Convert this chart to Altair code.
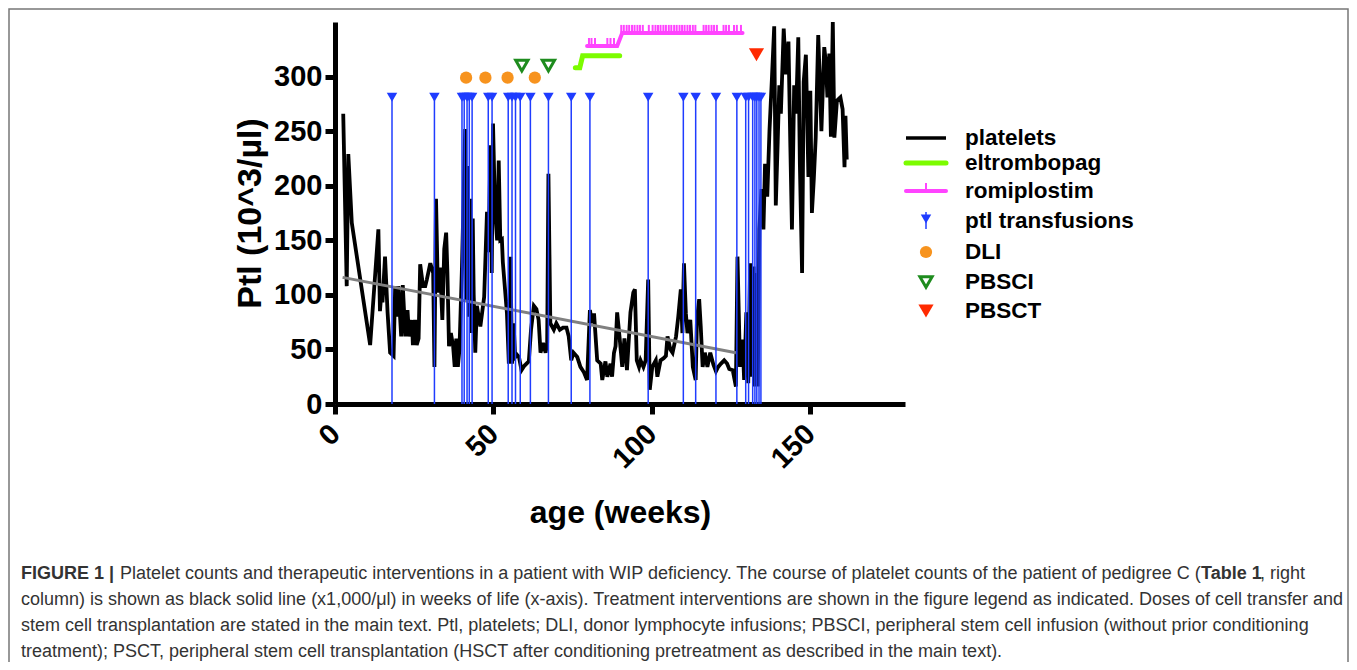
import altair as alt
import pandas as pd

FONT = "Liberation Sans"

# ---------------- data ----------------
plt_weeks = [
    2.6, 3.7, 4.2, 5.3, 11.1, 13.7, 14.2, 14.8, 15.0, 15.8, 16.6, 17.4, 18.5, 19.0, 19.6,
    20.0, 20.9, 21.4, 22.2, 22.9, 23.4, 24.3, 24.6, 25.3, 25.8, 26.4, 26.9, 27.8, 28.5, 29.0,
    30.1, 31.0, 31.4, 31.9, 32.5, 33.2, 33.9, 34.5, 35.1, 35.5, 36.0, 36.6, 37.3, 37.8, 38.3,
    38.8, 39.3, 40.1, 40.6, 41.1, 41.4, 41.9, 42.3, 42.7, 43.1, 43.5, 43.8, 44.3, 44.8, 45.9,
    47.1, 48.0, 48.5, 49.1, 49.5, 49.9, 50.5, 51.2, 51.7, 52.2, 52.7, 53.0, 54.3, 54.9, 55.4,
    55.9, 56.4, 56.9, 57.5, 58.1, 58.9, 59.8, 61.2, 61.9, 62.8, 63.6, 64.3, 64.9, 65.7, 66.5,
    67.0, 67.4, 68.0, 69.1, 69.9, 71.0, 72.0, 73.1, 73.8, 74.6, 75.3, 76.5, 77.5, 78.6, 79.6,
    80.5, 81.2, 81.8, 82.8, 83.9, 84.4, 85.4, 86.0, 87.0, 87.5, 88.1, 88.6, 89.1, 89.9, 90.7,
    91.4, 92.2, 93.3, 94.2, 94.7, 95.3, 96.0, 96.5, 97.4, 98.1, 98.9, 99.4, 100.2, 101.3, 101.8,
    102.8, 103.8, 104.5, 105.0, 105.9, 106.6, 107.7, 108.4, 109.2, 109.7, 110.2, 110.8, 111.3, 112.2, 113.0,
    113.9, 114.3, 115.0, 115.5, 116.1, 116.8, 117.6, 118.5, 119.5, 120.3, 121.0, 121.9, 122.9, 123.8, 124.5,
    125.6, 126.6, 127.1, 127.9, 128.7, 129.2, 129.9, 130.5, 131.1, 131.6, 132.2, 132.6, 133.2, 133.5, 134.0,
    134.7, 135.3, 135.8, 136.5, 137.2, 138.0, 138.7, 139.2, 139.8, 140.3, 140.8, 141.7, 142.4, 143.2, 143.8,
    144.3, 145.0, 145.6, 146.3, 146.8, 147.5, 148.0, 148.7, 149.5, 150.1, 150.6, 151.2, 151.8, 152.6, 153.1,
    153.6, 154.5, 155.0, 155.5, 156.1, 156.6, 157.2, 157.7, 158.5, 159.6, 160.3, 160.9, 161.2, 161.6,
]
plt_values = [
    266, 108, 229, 166, 54, 160, 85, 108, 93, 135, 84, 47, 44, 108, 80,
    108, 62, 109, 62, 86, 62, 77, 54, 77, 54, 60, 128, 108, 108, 114,
    129, 120, 34, 188, 102, 125, 77, 142, 157, 120, 53, 65, 53, 34, 60,
    34, 50, 126, 188, 252, 95, 218, 80, 188, 65, 170, 100, 47, 90, 71,
    98, 176, 139, 237, 120, 257, 180, 150, 223, 150, 151, 130, 83, 37, 135,
    37, 74, 43, 45, 43, 31, 35, 39, 68, 90, 87, 77, 47, 56, 47,
    56, 211, 74, 68, 74, 68, 70, 70, 62, 40, 47, 43, 34, 29, 22,
    86, 74, 83, 40, 37, 22, 39, 25, 37, 25, 47, 53, 84, 60, 34,
    60, 31, 84, 102, 105, 40, 34, 40, 34, 40, 114, 13, 34, 40, 25,
    40, 42, 44, 62, 50, 47, 62, 80, 105, 65, 129, 83, 65, 77, 34,
    22, 77, 96, 71, 34, 47, 34, 47, 36, 30, 34, 37, 40, 37, 32,
    31, 16, 135, 34, 59, 22, 84, 19, 129, 25, 126, 16, 120, 16, 160,
    197, 160, 220, 190, 250, 300, 346, 182, 240, 292, 266, 344, 302, 332, 235,
    160, 292, 266, 336, 220, 120, 295, 320, 208, 287, 175, 206, 244, 338, 296,
    250, 327, 313, 281, 321, 245, 350, 244, 278, 281, 270, 217, 264, 224,
]

trend_weeks = [2.4, 126.6]
trend_values = [116, 47]

transfusion_weeks = [
    18.0, 31.4, 40.1, 40.8, 41.7, 42.4, 43.3, 48.4, 49.6, 54.7, 55.9, 57.0, 58.5,
    61.7, 67.4, 74.6, 80.5, 98.9, 110.0, 113.9, 120.3, 126.9, 129.7, 130.6, 131.9,
    132.6, 133.2, 133.9, 134.5,
]
transfusion_marker_value = 281

dli_weeks = [41.4, 47.5, 54.5, 63.1]
dli_values = [299, 299, 299, 299]

pbsci_weeks = [59.0, 67.4]
pbsci_values = [310, 310]

pbsct_weeks = [133.1]
pbsct_values = [320]

eltrombopag_weeks = [75.9, 77.3, 78.2, 89.9]
eltrombopag_values = [308, 308, 319, 319]

romiplostim_weeks = [79.6, 89.1, 90.7, 128.7]
romiplostim_values = [328, 328, 340, 340]

romiplostim_dose_weeks = [
    80.2, 81.0, 82.1, 86.0, 87.0, 88.1,
    90.4, 91.2, 92.1, 92.9, 93.8, 94.6, 95.5, 96.3, 97.2, 99.1, 100.3, 101.2, 102.0,
    102.8, 103.7, 104.5, 105.4, 106.2, 107.1, 107.9, 108.8, 109.6, 110.4, 111.3,
    112.1, 113.0, 113.8, 116.4, 117.2, 118.0, 118.9, 119.7, 120.6, 122.7, 123.5,
    124.4, 126.0, 126.9, 128.2,
]
romiplostim_dose_values = [328] * 6 + [340] * 39

legend_labels = ["platelets", "eltrombopag", "romiplostim", "ptl transfusions",
                 "DLI", "PBSCI", "PBSCT"]

caption_lines = [
    "column) is shown as black solid line (x1,000/\u03bcl) in weeks of life (x-axis). Treatment interventions are shown in the figure legend as indicated. Doses of cell transfer and",
    "stem cell transplantation are stated in the main text. Ptl, platelets; DLI, donor lymphocyte infusions; PBSCI, peripheral stem cell infusion (without prior conditioning",
    "treatment); PSCT, peripheral stem cell transplantation (HSCT after conditioning pretreatment as described in the main text).",
]

# ---------------- colours / layout ----------------
C_BLUE = "#1f3cff"
C_ORANGE = "#f7931e"
C_DKGREEN = "#1e8c1e"
C_RED = "#ff2a00"
C_LIME = "#7cfc00"
C_MAGENTA = "#ff44ff"

W, H = 570, 382
X_DOMAIN = [0, 180]
Y_DOMAIN = [0, 350]
LEGEND_ROW_Y = [116, 141, 169, 199, 230, 260, 289]
SYM_X = 591
LINE_X0, LINE_X1 = 571, 611
TEXT_X = 630
CAP_FS = 18
CAP_Y = [557, 583, 609, 635]

plt_df = pd.DataFrame({"week": plt_weeks, "ptl": plt_values})
trend_df = pd.DataFrame({"week": trend_weeks, "ptl": trend_values})
tr_df = pd.DataFrame({"week": transfusion_weeks,
                      "ptl": [transfusion_marker_value] * len(transfusion_weeks),
                      "base": [0] * len(transfusion_weeks)})
dli_df = pd.DataFrame({"week": dli_weeks, "ptl": dli_values})
pbsci_df = pd.DataFrame({"week": pbsci_weeks, "ptl": pbsci_values})
pbsct_df = pd.DataFrame({"week": pbsct_weeks, "ptl": pbsct_values})
elt_df = pd.DataFrame({"week": eltrombopag_weeks, "ptl": eltrombopag_values})
romi_df = pd.DataFrame({"week": romiplostim_weeks, "ptl": romiplostim_values})
romi_dose_df = pd.DataFrame({"week": romiplostim_dose_weeks, "ptl": romiplostim_dose_values})

xs = alt.Scale(domain=X_DOMAIN, nice=False, zero=False)
ys = alt.Scale(domain=Y_DOMAIN, nice=False)

x_axis = alt.Axis(values=[0, 50, 100, 150], labelAngle=-45, labelAlign="right",
                  labelBaseline="middle", labelFont=FONT, labelFontSize=29,
                  labelFontWeight="bold", labelColor="black", labelPadding=15,
                  tickColor="black", tickSize=10, tickWidth=5,
                  domainColor="black", domainWidth=5, grid=False,
                  title="age (weeks)", titleFont=FONT, titleFontSize=32,
                  titleFontWeight="bold", titleColor="black", titlePadding=24)
y_axis = alt.Axis(values=[0, 50, 100, 150, 200, 250, 300], labelFont=FONT,
                  labelFontSize=29, labelFontWeight="bold", labelColor="black",
                  labelPadding=3, tickColor="black", tickSize=10, tickWidth=5,
                  domainColor="black", domainWidth=5, grid=False,
                  title="Ptl (10^3/\u00b5l)", titleFont=FONT, titleFontSize=34,
                  titleFontWeight="bold", titleColor="black", titlePadding=6)

X = alt.X("week:Q", scale=xs, axis=x_axis)
Y = alt.Y("ptl:Q", scale=ys, axis=y_axis)

platelets = alt.Chart(plt_df).mark_line(color="black", strokeWidth=3.8).encode(x=X, y=Y)
trend = alt.Chart(trend_df).mark_line(color="#808080", strokeWidth=3).encode(x="week:Q", y="ptl:Q")
tr_rules = alt.Chart(tr_df).mark_rule(color=C_BLUE, strokeWidth=1.5).encode(
    x="week:Q", y="base:Q", y2="ptl:Q")
tr_marks = alt.Chart(tr_df).mark_point(shape="triangle-down", filled=True, color=C_BLUE,
                                       size=110, opacity=1).encode(x="week:Q", y="ptl:Q")
dli = alt.Chart(dli_df).mark_point(shape="circle", filled=True, color=C_ORANGE,
                                   size=150, opacity=1).encode(x="week:Q", y="ptl:Q")
pbsci = alt.Chart(pbsci_df).mark_point(shape="triangle-down", filled=False, color=C_DKGREEN,
                                       size=150, strokeWidth=3, opacity=1).encode(x="week:Q", y="ptl:Q")
pbsct = alt.Chart(pbsct_df).mark_point(shape="triangle-down", filled=True, color=C_RED,
                                       size=230, opacity=1).encode(x="week:Q", y="ptl:Q")
elt = alt.Chart(elt_df).mark_line(color=C_LIME, strokeWidth=5, strokeCap="round").encode(
    x="week:Q", y="ptl:Q")
romi = alt.Chart(romi_df).mark_line(color=C_MAGENTA, strokeWidth=4, strokeCap="round").encode(
    x="week:Q", y="ptl:Q")
romi_doses = alt.Chart(romi_dose_df).mark_tick(orient="vertical", color=C_MAGENTA, size=8,
                                                thickness=2, yOffset=-4, opacity=1).encode(
    x="week:Q", y="ptl:Q")

layers = [platelets, trend, tr_rules, tr_marks, dli, pbsci, pbsct, elt, romi_doses, romi]

# ---------------- legend ----------------
one = pd.DataFrame({"k": [0]})


def ly(label):
    return alt.value(LEGEND_ROW_Y[legend_labels.index(label)])


layers += [
    alt.Chart(one).mark_rule(color="black", strokeWidth=3.5).encode(
        x=alt.value(LINE_X0), x2=alt.value(LINE_X1), y=ly("platelets")),
    alt.Chart(one).mark_rule(color=C_LIME, strokeWidth=5, strokeCap="round").encode(
        x=alt.value(LINE_X0), x2=alt.value(LINE_X1), y=ly("eltrombopag")),
    alt.Chart(one).mark_rule(color=C_MAGENTA, strokeWidth=4, strokeCap="round").encode(
        x=alt.value(LINE_X0), x2=alt.value(LINE_X1), y=ly("romiplostim")),
    alt.Chart(one).mark_rule(color=C_MAGENTA, strokeWidth=2).encode(
        x=alt.value(SYM_X), y=alt.value(LEGEND_ROW_Y[2] - 8), y2=alt.value(LEGEND_ROW_Y[2])),
    alt.Chart(one).mark_rule(color=C_BLUE, strokeWidth=1.5).encode(
        x=alt.value(SYM_X), y=alt.value(LEGEND_ROW_Y[3] - 9), y2=alt.value(LEGEND_ROW_Y[3] + 8)),
    alt.Chart(one).mark_point(shape="triangle-down", filled=True, color=C_BLUE, size=110,
                              opacity=1).encode(x=alt.value(SYM_X), y=alt.value(LEGEND_ROW_Y[3] - 2)),
    alt.Chart(one).mark_point(shape="circle", filled=True, color=C_ORANGE, size=150,
                              opacity=1).encode(x=alt.value(SYM_X), y=ly("DLI")),
    alt.Chart(one).mark_point(shape="triangle-down", filled=False, color=C_DKGREEN, size=150,
                              strokeWidth=3, opacity=1).encode(x=alt.value(SYM_X), y=ly("PBSCI")),
    alt.Chart(one).mark_point(shape="triangle-down", filled=True, color=C_RED, size=230,
                              opacity=1).encode(x=alt.value(SYM_X), y=ly("PBSCT")),
]
for lab in legend_labels:
    layers.append(alt.Chart(one).mark_text(
        align="left", baseline="middle", font=FONT, fontSize=22.5, fontWeight="bold",
        color="black", text=lab).encode(x=alt.value(TEXT_X), y=ly(lab)))

# ---------------- caption & frame ----------------
first_line_parts = [
    ("FIGURE 1 |", -314, "bold"),
    ("Platelet counts and therapeutic interventions in a patient with WIP deficiency. "
     "The course of platelet counts of the patient of pedigree C (", -215, "normal"),
    ("Table 1", 866, "bold"),
    (", right", 925, "normal"),
]
for txt, xpos, wt in first_line_parts:
    layers.append(alt.Chart(one).mark_text(
        align="left", baseline="alphabetic", font=FONT, fontSize=CAP_FS, fontWeight=wt,
        color="#333333", text=txt).encode(x=alt.value(xpos), y=alt.value(CAP_Y[0])))
for i, line in enumerate(caption_lines):
    layers.append(alt.Chart(one).mark_text(
        align="left", baseline="alphabetic", font=FONT, fontSize=CAP_FS, fontWeight="normal",
        color="#333333", text=line).encode(x=alt.value(-314), y=alt.value(CAP_Y[i + 1])))

layers.append(alt.Chart(one).mark_rect(fillOpacity=0, stroke="#777777", strokeWidth=1.5).encode(
    x=alt.value(-326), x2=alt.value(1013), y=alt.value(-13), y2=alt.value(720)))

chart = alt.layer(*layers).properties(
    width=W, height=H,
    autosize=alt.AutoSizeParams(type="none"),
    padding={"left": 327, "top": 14, "right": 444, "bottom": 258},
).configure(background="white", view=alt.ViewConfig(stroke=None))

chart.save("out.html", embed_options={"renderer": "svg", "actions": False})
